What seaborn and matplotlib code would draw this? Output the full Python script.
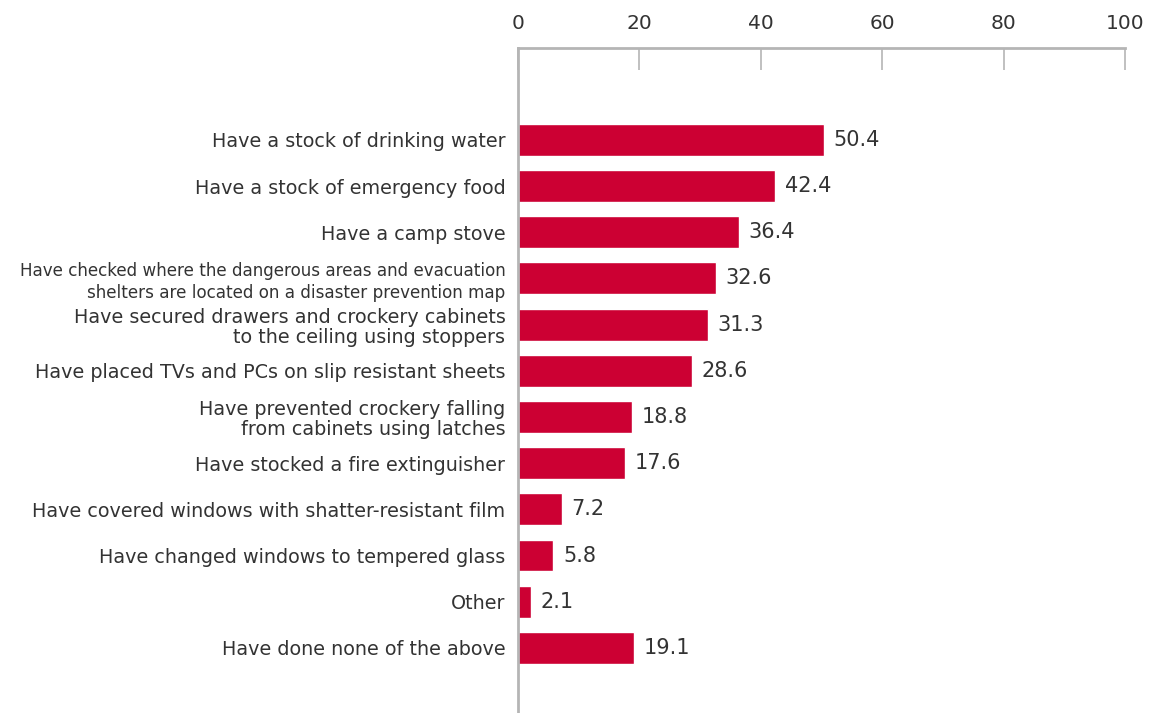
import matplotlib
matplotlib.use("Agg")
import matplotlib.pyplot as plt
import seaborn as sns
import pandas as pd

categories = [
    "Have a stock of drinking water",
    "Have a stock of emergency food",
    "Have a camp stove",
    "Have checked where the dangerous areas and evacuation\nshelters are located on a disaster prevention map",
    "Have secured drawers and crockery cabinets\nto the ceiling using stoppers",
    "Have placed TVs and PCs on slip resistant sheets",
    "Have prevented crockery falling\nfrom cabinets using latches",
    "Have stocked a fire extinguisher",
    "Have covered windows with shatter-resistant film",
    "Have changed windows to tempered glass",
    "Other",
    "Have done none of the above",
]
values = [50.4, 42.4, 36.4, 32.6, 31.3, 28.6, 18.8, 17.6, 7.2, 5.8, 2.1, 19.1]
x_ticks = [0, 20, 40, 60, 80, 100]

df = pd.DataFrame({"item": categories, "pct": values})

sns.set_theme(style="white")
plt.rcParams["font.family"] = ["DejaVu Sans"]

text_color = "#333333"
spine_color = "#b5b5b5"
bar_color = "#cc0033"

fig = plt.figure(figsize=(11.5, 7.13), dpi=100)
ax = fig.add_axes([0.4504, 0.0, 0.5278, 0.9327])

sns.barplot(data=df, x="pct", y="item", orient="h", color=bar_color,
            width=0.69, saturation=1, ax=ax)

ax.set_xlim(0, 100)
ax.set_ylim(12.41, -1.99)
ax.xaxis.tick_top()
ax.set_xticks(x_ticks)
ax.set_xticklabels([str(t) for t in x_ticks])
ax.tick_params(axis="x", direction="in", length=16, width=1.2, color=spine_color,
               labelsize=14.5, labelcolor=text_color, pad=11)
ax.tick_params(axis="y", length=0, labelsize=13.8, labelcolor=text_color, pad=9)
for lbl in ax.get_yticklabels():
    lbl.set_horizontalalignment("right")
    lbl.set_linespacing(1.06)
    if "evacuation" in lbl.get_text():
        lbl.set_fontsize(12.1)
        lbl.set_linespacing(1.24)

ax.set_xlabel("")
ax.set_ylabel("")
for side in ["right", "bottom"]:
    ax.spines[side].set_visible(False)
for side in ["top", "left"]:
    ax.spines[side].set_color(spine_color)
    ax.spines[side].set_linewidth(2)

for i, v in enumerate(values):
    ax.text(v + 1.6, i, f"{v:.1f}", va="center", ha="left",
            fontsize=15, color=text_color)

fig.savefig("out.png", dpi=100, facecolor="white")
